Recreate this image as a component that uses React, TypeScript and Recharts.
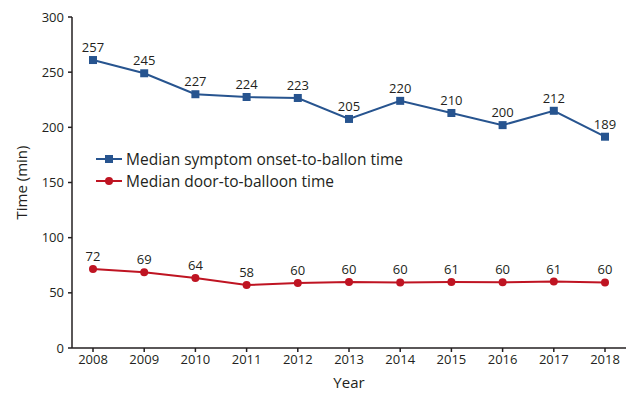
import { LineChart, Line, XAxis, YAxis, LabelList } from 'recharts';

const years = ['2008', '2009', '2010', '2011', '2012', '2013', '2014', '2015', '2016', '2017', '2018'];
// plotted positions and printed labels
const onsetValues = [261, 249, 230, 227.5, 226.6, 207.6, 224, 213, 202, 215, 191.5];
const onsetLabels = [257, 245, 227, 224, 223, 205, 220, 210, 200, 212, 189];
const doorValues = [71.6, 68.7, 63.4, 57, 59, 59.8, 59.4, 59.8, 59.6, 60.2, 59.4];
const doorLabels = [72, 69, 64, 58, 60, 60, 60, 61, 60, 61, 60];
const yTicks = [0, 50, 100, 150, 200, 250, 300];

const BLUE = '#27548f';
const RED = '#bf1422';
const INK = '#231f20';
const FONT = '"Open Sans", sans-serif';

const data = years.map((year, i) => ({
  year,
  onset: onsetValues[i],
  onsetLabel: onsetLabels[i],
  door: doorValues[i],
  doorLabel: doorLabels[i],
}));

const Square = (props: any) => {
  const { cx, cy } = props;
  if (cx == null || cy == null) return null;
  return <rect x={cx - 4} y={cy - 4} width={8} height={8} fill={BLUE} />;
};

const Dot = (props: any) => {
  const { cx, cy } = props;
  if (cx == null || cy == null) return null;
  return <circle cx={cx} cy={cy} r={4} fill={RED} />;
};

const LegendBox = () => (
  <div style={{ position: 'absolute', left: 96, top: 148, fontFamily: FONT, fontSize: 15.5, color: INK, lineHeight: '22px' }}>
    <div style={{ display: 'flex', alignItems: 'center' }}>
      <svg width={28} height={10} style={{ marginRight: 2 }}>
        <line x1={0} y1={5} x2={26} y2={5} stroke={BLUE} strokeWidth={2} />
        <rect x={9} y={1} width={8} height={8} fill={BLUE} />
      </svg>
      Median symptom onset-to-ballon time
    </div>
    <div style={{ display: 'flex', alignItems: 'center' }}>
      <svg width={28} height={10} style={{ marginRight: 2 }}>
        <line x1={0} y1={5} x2={26} y2={5} stroke={RED} strokeWidth={2} />
        <circle cx={13} cy={5} r={4} fill={RED} />
      </svg>
      Median door-to-balloon time
    </div>
  </div>
);

const YLabel = (props: any) => {
  const vb = props.viewBox || {};
  const x = 21;
  const y = vb.y + vb.height / 2;
  return (
    <text x={x} y={y} transform={`rotate(-90, ${x}, ${y})`} textAnchor="middle" dominantBaseline="central"
      fontFamily={FONT} fontSize={15} fill={INK}>
      Time (min)
    </text>
  );
};

const XLabel = (props: any) => {
  const vb = props.viewBox || {};
  return (
    <text x={vb.x + vb.width / 2} y={388} textAnchor="middle" fontFamily={FONT} fontSize={15} fill={INK}>
      Year
    </text>
  );
};

export default function App() {
  return (
    <div style={{ position: 'absolute', left: 0, top: 0, width: 639, height: 403, background: '#fff' }}>
      <LineChart width={639} height={403} data={data} margin={{ top: 17, right: 13, bottom: 25, left: 20 }}>
        <XAxis
          dataKey="year"
          padding={{ left: 21, right: 21 }}
          height={30}
          stroke={INK}
          strokeWidth={1.5}
          tickSize={4}
          tickMargin={3}
          tick={{ fill: INK, fontFamily: FONT, fontSize: 13 }}
          label={<XLabel />}
        />
        <YAxis
          domain={[0, 300]}
          ticks={yTicks}
          width={52}
          stroke={INK}
          strokeWidth={1.5}
          tickSize={4}
          tickMargin={4}
          tick={{ fill: INK, fontFamily: FONT, fontSize: 13 }}
          label={<YLabel />}
        />
        <Line
          dataKey="onset"
          stroke={BLUE}
          strokeWidth={2}
          dot={<Square />}
          activeDot={false}
          isAnimationActive={false}
        >
          <LabelList dataKey="onsetLabel" position="top" offset={8} fill={INK} fontFamily={FONT} fontSize={13} />
        </Line>
        <Line
          dataKey="door"
          stroke={RED}
          strokeWidth={2}
          dot={<Dot />}
          activeDot={false}
          isAnimationActive={false}
        >
          <LabelList dataKey="doorLabel" position="top" offset={8} fill={INK} fontFamily={FONT} fontSize={13} />
        </Line>
      </LineChart>
      <LegendBox />
    </div>
  );
}
